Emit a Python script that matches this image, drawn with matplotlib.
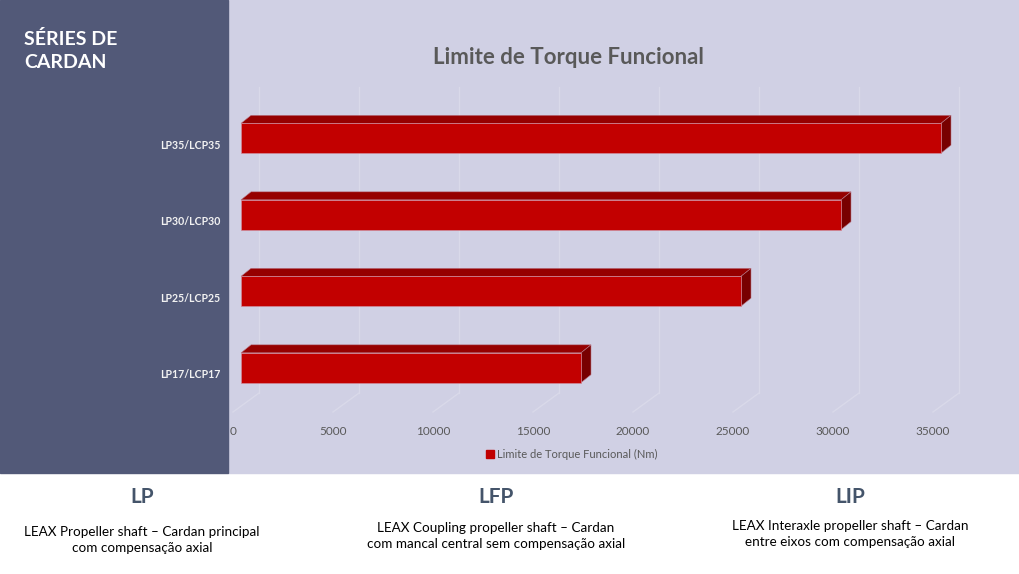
import matplotlib
matplotlib.use("Agg")
import matplotlib.pyplot as plt
from matplotlib.patches import Rectangle, Polygon, Patch

plt.rcParams['font.family'] = ['Lato', 'DejaVu Sans']

categories = ["LP17/LCP17", "LP25/LCP25", "LP30/LCP30", "LP35/LCP35"]
values = [17000, 25000, 30000, 35000]
xticks = [0, 5000, 10000, 15000, 20000, 25000, 30000, 35000]
series_name = "Limite de Torque Funcional (Nm)"
title = "Limite de Torque Funcional"
panel_title = "SÉRIES DE\nCARDAN"
families = ["LP", "LFP", "LIP"]
descriptions = [
    "LEAX Propeller shaft – Cardan principal\ncom compensação axial",
    "LEAX Coupling propeller shaft – Cardan\ncom mancal central sem compensação axial",
    "LEAX Interaxle propeller shaft – Cardan\nentre eixos com compensação axial",
]

W, H = 1020, 574
fig = plt.figure(figsize=(W / 100, H / 100), dpi=100)
fig.patch.set_facecolor('white')

# backgrounds
fig.patches.append(Rectangle((228 / W, 101 / H), 1 - 228 / W, 1 - 101 / H,
                             transform=fig.transFigure, color='#d0d0e4', zorder=-2))
fig.patches.append(Rectangle((0, 101 / H), 228 / W, 1 - 101 / H,
                             transform=fig.transFigure, color='#525978', zorder=-2))

# axes: front floor coordinates
ax_l, ax_b, ax_w, ax_h = 233, 162, 740, 306
xmax = 37000
ax = fig.add_axes([ax_l / W, ax_b / H, ax_w / W, ax_h / H])
ax.set_facecolor('none')
ax.set_xlim(0, xmax)
ax.set_ylim(-0.5, 3.5)
px = xmax / ax_w          # data x per pixel
py = 4.0 / ax_h           # data y per pixel

# back wall gridlines + floor diagonals
gdx, gdy = 26 * px, 19 * py
for t in xticks:
    ax.plot([t + gdx, t + gdx], [-0.5 + gdy, 3.5 + gdy], color='#d9d9e9', lw=1, clip_on=False, zorder=1)
    ax.plot([t, t + gdx], [-0.5, -0.5 + gdy], color='#d9d9e9', lw=1, clip_on=False, zorder=1)

# 3d bars
h = 0.39
fx, fy = 8 * px, 6 * py       # front face offset
dx, dy = 10 * px, 8 * py      # depth
for i, v in enumerate(values):
    y0 = i - h / 2 + fy
    y1 = i + h / 2 + fy
    x0, x1 = fx, fx + v
    top = Polygon([(x0, y1), (x1, y1), (x1 + dx, y1 + dy), (x0 + dx, y1 + dy)],
                  closed=True, facecolor='#960000', edgecolor='#b87888', lw=0.4, zorder=3, clip_on=False)
    side = Polygon([(x1, y0), (x1 + dx, y0 + dy), (x1 + dx, y1 + dy), (x1, y1)],
                   closed=True, facecolor='#780000', edgecolor='#b87888', lw=0.4, zorder=3, clip_on=False)
    ax.add_patch(top)
    ax.add_patch(side)
ax.barh([i + fy for i in range(len(values))], values, height=h, left=fx,
        color='#c20000', edgecolor='#d08c9c', linewidth=0.5, zorder=4)

ax.set_yticks(range(len(categories)))
ax.set_yticklabels(categories, color='#f2f2f2', fontsize=7.6, fontweight='bold')
ax.set_xticks(xticks)
ax.set_xticklabels([str(t) for t in xticks], color='#595959', fontsize=8.5)
ax.tick_params(axis='both', length=0)
ax.tick_params(axis='y', pad=9)
ax.tick_params(axis='x', pad=10)
for s in ax.spines.values():
    s.set_visible(False)

fig.text(568 / W, 1 - 57 / H, title, ha='center', va='center', fontsize=16,
         fontweight='bold', color='#595959')

fig.legend(handles=[Patch(color='#c00000', label=series_name)], loc='center',
           bbox_to_anchor=(572 / W, 1 - 454 / H), frameon=False, fontsize=8,
           handlelength=0.7, handleheight=0.7, handletextpad=0.3, labelcolor='#595959')

fig.text(24 / W, 1 - 30 / H, panel_title, ha='left', va='top', fontsize=14,
         fontweight='bold', color='white', linespacing=1.45)

# bottom descriptions
centers = [142, 496, 850]
desc_y = [540, 536, 534]
for c, name, d, dyp in zip(centers, families, descriptions, desc_y):
    fig.text(c / W, 1 - 497 / H, name, ha='center', va='center', fontsize=15,
             fontweight='bold', color='#44546a')
    fig.text(c / W, 1 - dyp / H, d, ha='center', va='center', fontsize=9.7,
             color='black', linespacing=1.4)

fig.savefig("out.png", dpi=100)
